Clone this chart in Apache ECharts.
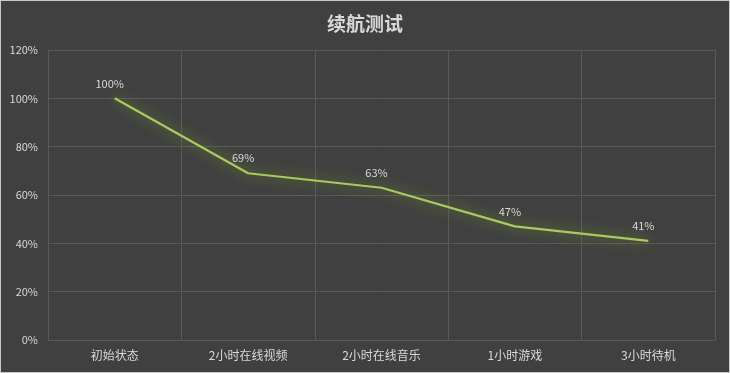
<!DOCTYPE html>
<html><head><meta charset="utf-8">
<script src="https://cdn.jsdelivr.net/npm/echarts@6/dist/echarts.min.js"></script>
<style>html,body{margin:0;padding:0;background:#404040;}#c{width:730px;height:373px;box-sizing:border-box;border:1px solid #c8c8c8;}</style>
</head><body><div id="c"></div>
<script>
var categories = ['初始状态','2小时在线视频','2小时在线音乐','1小时游戏','3小时待机'];
var values = [100, 69, 63, 47, 41];
var yTicks = {min:0, max:120, interval:20};
var chart = echarts.init(document.getElementById('c'));
chart.setOption({
  backgroundColor:'#404040',
  title:{text:'续航测试', left:'center', top:8, textStyle:{color:'#d9d9d9', fontSize:19, fontWeight:'bold', fontFamily:'Noto Sans CJK SC'}},
  grid:{left:47, right:14, top:49, bottom:32},
  xAxis:{type:'category', data:categories, boundaryGap:true,
    axisLine:{show:true, lineStyle:{color:'#595959'}}, axisTick:{show:false},
    splitLine:{show:true, lineStyle:{color:'#595959'}},
    axisLabel:{color:'#d9d9d9', fontSize:12, margin:9, fontFamily:'Noto Sans CJK SC'}},
  yAxis:{type:'value', min:yTicks.min, max:yTicks.max, interval:yTicks.interval,
    axisLine:{show:false}, axisTick:{show:false},
    splitLine:{lineStyle:{color:'#595959'}},
    axisLabel:{color:'#d9d9d9', fontSize:11, margin:10, formatter:'{value}%', fontFamily:'Noto Sans CJK SC'}},
  series:[{type:'line', data:values, symbol:'circle', symbolSize:1, showSymbol:true,
    itemStyle:{color:'rgba(0,0,0,0)'},
    lineStyle:{color:'#acc95e', width:2.2, shadowColor:'rgba(140,190,40,0.85)', shadowBlur:14},
    label:{show:true, position:'top', distance:9, offset:[-5,0], color:'#d9d9d9', fontSize:11, formatter:'{c}%', fontFamily:'Noto Sans CJK SC'},
    animation:false}]
});
</script></body></html>
